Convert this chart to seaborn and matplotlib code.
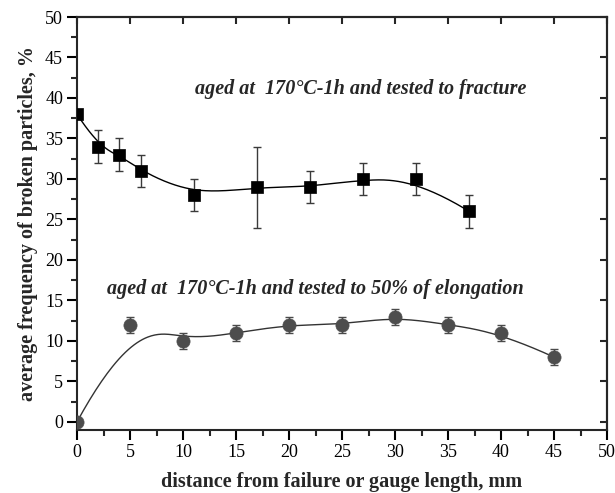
import numpy as np
import pandas as pd
import matplotlib
matplotlib.use("Agg")
import matplotlib.pyplot as plt
import seaborn as sns

# ---- data ----
frac_x = [0, 2, 4, 6, 11, 17, 22, 27, 32, 37]
frac_y = [38, 34, 33, 31, 28, 29, 29, 30, 30, 26]
frac_err = [0, 2, 2, 2, 2, 5, 2, 2, 2, 2]

elong_x = [0, 5, 10, 15, 20, 25, 30, 35, 40, 45]
elong_y = [0, 12, 10, 11, 12, 12, 13, 12, 11, 8]
elong_err = [0, 1, 1, 1, 1, 1, 1, 1, 1, 1]

x_ticks = [0, 5, 10, 15, 20, 25, 30, 35, 40, 45, 50]
y_ticks = [0, 5, 10, 15, 20, 25, 30, 35, 40, 45, 50]

label_frac = "aged at  170\u00b0C-1h and tested to fracture"
label_elong = "aged at  170\u00b0C-1h and tested to 50% of elongation"
x_label = "distance from failure or gauge length, mm"
y_label = "average frequency of broken particles, %"


def clamped_bspline(px, py, k=3, num=500):
    px = np.asarray(px, float)
    py = np.asarray(py, float)
    n = len(px)
    knots = np.concatenate([np.zeros(k), np.arange(n - k + 1), np.full(k, n - k)]).astype(float)
    t = np.linspace(0, n - k, num)
    m = len(knots) - 1
    B = np.zeros((num, m))
    for i in range(m):
        B[:, i] = ((knots[i] <= t) & (t < knots[i + 1])).astype(float)
    last = max(i for i in range(m) if knots[i] < knots[i + 1])
    B[t >= knots[-1], :] = 0
    B[t >= knots[-1], last] = 1
    for d in range(1, k + 1):
        Bn = np.zeros((num, m - d))
        for i in range(m - d):
            a = np.zeros(num)
            b = np.zeros(num)
            den1 = knots[i + d] - knots[i]
            den2 = knots[i + d + 1] - knots[i + 1]
            if den1 > 0:
                a = (t - knots[i]) / den1 * B[:, i]
            if den2 > 0:
                b = (knots[i + d + 1] - t) / den2 * B[:, i + 1]
            Bn[:, i] = a + b
        B = Bn
    return B @ px, B @ py


sns.set_theme(style="ticks")
plt.rcParams["font.family"] = ["Liberation Serif", "DejaVu Serif"]
plt.rcParams["axes.linewidth"] = 1.5

fig = plt.figure(figsize=(6.15, 4.93), dpi=100)
ax = fig.add_axes([77 / 615, 1 - 430 / 493, (607 - 77) / 615, (430 - 17) / 493])

# curves
cx1, cy1 = clamped_bspline(frac_x, frac_y)
cx2, cy2 = clamped_bspline(elong_x, elong_y)
sns.lineplot(x=cx1, y=cy1, sort=False, estimator=None, color="black", lw=1.0, ax=ax)
sns.lineplot(x=cx2, y=cy2, sort=False, estimator=None, color="#333333", lw=1.0, ax=ax)

# error bars
ax.errorbar(frac_x, frac_y, yerr=frac_err, fmt="none", ecolor="#3a3a3a",
            elinewidth=1.0, capsize=3, capthick=1.0, zorder=3)
ax.errorbar(elong_x, elong_y, yerr=elong_err, fmt="none", ecolor="#4a4a4a",
            elinewidth=1.0, capsize=3, capthick=1.0, zorder=3)

# markers
df1 = pd.DataFrame({"x": frac_x, "y": frac_y})
df2 = pd.DataFrame({"x": elong_x, "y": elong_y})
sns.scatterplot(data=df1, x="x", y="y", marker="s", s=75, color="black",
                edgecolor="black", linewidth=0.5, ax=ax, zorder=4)
sns.scatterplot(data=df2, x="x", y="y", marker="o", s=90, color="#4d4d4d",
                edgecolor="#4d4d4d", linewidth=0.5, ax=ax, zorder=4)

ax.set_xlim(0, 50)
ax.set_ylim(-1, 50)
ax.set_xticks(x_ticks)
ax.set_yticks(y_ticks)
ax.set_xticks(np.arange(2.5, 50, 5), minor=True)
ax.set_yticks(np.arange(2.5, 50, 5), minor=True)
ax.tick_params(axis="both", which="major", direction="out", length=7, width=1.5,
               labelsize=13, colors="black", pad=3)
ax.tick_params(axis="both", which="minor", direction="out", length=4, width=1.5)
ax.set_xticklabels([str(v) for v in x_ticks])
ax.set_yticklabels([str(v) for v in y_ticks])

sec_x = ax.secondary_xaxis("top")
sec_x.set_xticks(x_ticks)
sec_x.tick_params(direction="in", length=5, width=1.5, labeltop=False)
sec_y = ax.secondary_yaxis("right")
sec_y.set_yticks(y_ticks)
sec_y.tick_params(direction="in", length=5, width=1.5, labelright=False)
for s in ax.spines.values():
    s.set_linewidth(1.5)
    s.set_visible(True)

ax.set_xlabel(x_label, fontsize=14.5, fontweight="bold", labelpad=8)
ax.set_ylabel(y_label, fontsize=14.5, fontweight="bold", labelpad=5)

ax.text(11.1, 41.1, label_frac, fontsize=14.5, fontweight="bold", style="italic",
        va="center", ha="left")
ax.text(2.8, 16.4, label_elong, fontsize=14.5, fontweight="bold", style="italic",
        va="center", ha="left")

fig.savefig("out.png", dpi=100)
